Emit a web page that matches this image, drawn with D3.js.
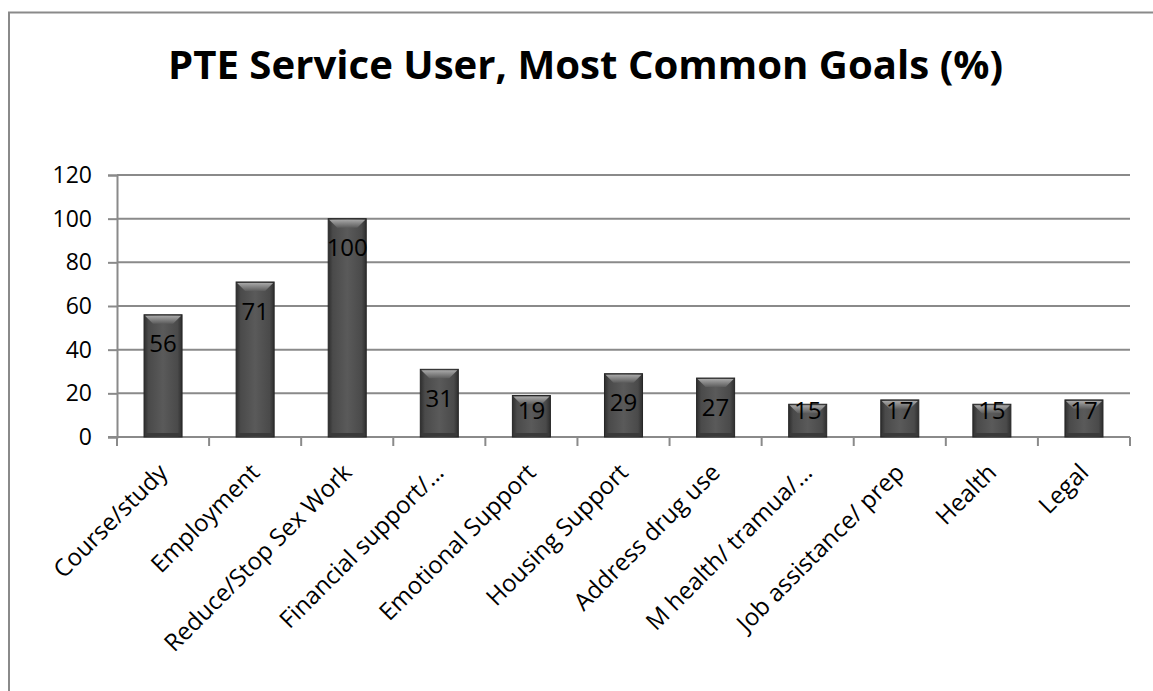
<!DOCTYPE html>
<html>
<head>
<meta charset="utf-8">
<script src="https://cdn.jsdelivr.net/npm/d3@7"></script>
<style>
  html, body { margin: 0; padding: 0; background: #fff; }
  svg { display: block; }
  text { font-family: "Open Sans", "DejaVu Sans", sans-serif; }
</style>
</head>
<body>
<svg id="chart" width="1153" height="691"></svg>
<script>
// Goals recorded for service users, share of users (%)
const categories = [
  "Course/study", "Employment", "Reduce/Stop Sex Work", "Financial support/…",
  "Emotional Support", "Housing Support", "Address drug use",
  "M health/ tramua/…", "Job assistance/ prep", "Health", "Legal"
];
const values = [56, 71, 100, 31, 19, 29, 27, 15, 17, 15, 17];
const yTicks = [0, 20, 40, 60, 80, 100, 120];
const title = "PTE Service User, Most Common Goals (%)";

const svg = d3.select("#chart");
const W = 1153, H = 691;
const plot = { left: 117, right: 1130, top: 175, bottom: 437 };

// outer chart frame (runs past the right and bottom edges)
svg.append("rect")
  .attr("x", 9).attr("y", 12.5)
  .attr("width", W + 20).attr("height", H + 20)
  .attr("fill", "#fff").attr("stroke", "#8a8a8a").attr("stroke-width", 2);

// title
svg.append("text")
  .attr("x", 585.5).attr("y", 79)
  .attr("text-anchor", "middle")
  .attr("font-size", 39).attr("font-weight", "bold")
  .attr("textLength", 835).attr("lengthAdjust", "spacingAndGlyphs")
  .attr("fill", "#000")
  .text(title);

const x = d3.scaleBand()
  .domain(categories)
  .range([plot.left, plot.right])
  .paddingInner(0.587)
  .paddingOuter(0.587 / 2);

const y = d3.scaleLinear().domain([0, 120]).range([plot.bottom, plot.top]);

// gradients for the bevelled bars
const defs = svg.append("defs");
const body = defs.append("linearGradient").attr("id", "barBody")
  .attr("x1", "0").attr("x2", "1").attr("y1", "0").attr("y2", "0");
[["0%", "#2e2e2e"], ["12%", "#4a4a4a"], ["50%", "#5a5a5a"], ["88%", "#4a4a4a"], ["100%", "#2e2e2e"]]
  .forEach(([o, c]) => body.append("stop").attr("offset", o).attr("stop-color", c));
const cap = defs.append("linearGradient").attr("id", "barCap")
  .attr("x1", "0").attr("x2", "0").attr("y1", "0").attr("y2", "1");
[["0%", "#a8a8a8"], ["100%", "#5c5c5c"]]
  .forEach(([o, c]) => cap.append("stop").attr("offset", o).attr("stop-color", c));

// horizontal gridlines + y axis
const yAxis = d3.axisLeft(y).tickValues(yTicks).tickSize(9).tickPadding(16)
  .tickFormat(d3.format("d"));
const gy = svg.append("g").attr("transform", `translate(${plot.left},0)`).call(yAxis);
gy.select(".domain").attr("stroke", "#8a8a8a").attr("stroke-width", 2);
gy.selectAll(".tick line").attr("stroke", "#8a8a8a").attr("stroke-width", 2);
gy.selectAll(".tick text").attr("font-size", 23).attr("fill", "#000");

svg.append("g").selectAll("line").data(yTicks.filter(d => d > 0)).join("line")
  .attr("x1", plot.left).attr("x2", plot.right)
  .attr("y1", d => y(d)).attr("y2", d => y(d))
  .attr("stroke", "#8a8a8a").attr("stroke-width", 2);

// x axis: baseline and tick marks at category boundaries
const xa = svg.append("g");
xa.append("line")
  .attr("x1", plot.left - 9).attr("x2", plot.right)
  .attr("y1", y(0)).attr("y2", y(0))
  .attr("stroke", "#8a8a8a").attr("stroke-width", 2);
const bounds = d3.range(categories.length + 1).map(i => plot.left + i * x.step());
xa.selectAll("line.tk").data(bounds).join("line").attr("class", "tk")
  .attr("x1", d => d).attr("x2", d => d)
  .attr("y1", y(0)).attr("y2", y(0) + 9)
  .attr("stroke", "#8a8a8a").attr("stroke-width", 2);

// bars
const bars = svg.append("g").selectAll("g").data(values).join("g");
bars.append("rect")
  .attr("x", (d, i) => x(categories[i]))
  .attr("y", d => y(d))
  .attr("width", x.bandwidth())
  .attr("height", d => y(0) - y(d))
  .attr("fill", "url(#barBody)")
  .attr("stroke", "#262626").attr("stroke-width", 1);
// bevelled top face
bars.append("path")
  .attr("d", (d, i) => {
    const x0 = x(categories[i]) + 1, x1 = x0 + x.bandwidth() - 2, t = y(d) + 1, b = 8;
    return `M${x0},${t}L${x1},${t}L${x1 - b},${t + b}L${x0 + b},${t + b}Z`;
  })
  .attr("fill", "url(#barCap)");
// bottom shading
bars.append("rect")
  .attr("x", (d, i) => x(categories[i]) + 1)
  .attr("y", y(0) - 4)
  .attr("width", x.bandwidth() - 2).attr("height", 3)
  .attr("fill", "#3a3a3a");

// value labels
bars.append("text")
  .attr("x", (d, i) => x(categories[i]) + x.bandwidth() / 2)
  .attr("y", d => Math.min(y(d) + 29, y(0) - 27))
  .attr("dy", "0.36em")
  .attr("text-anchor", "middle")
  .attr("font-size", 24).attr("fill", "#000")
  .text(d => d);

// rotated category labels
svg.append("g").selectAll("text").data(categories).join("text")
  .attr("transform", d => `translate(${x(d) + x.bandwidth() / 2 + 6},${y(0) + 37}) rotate(-45)`)
  .attr("text-anchor", "end")
  .attr("font-size", 24).attr("fill", "#000")
  .text(d => d);
</script>
</body>
</html>
